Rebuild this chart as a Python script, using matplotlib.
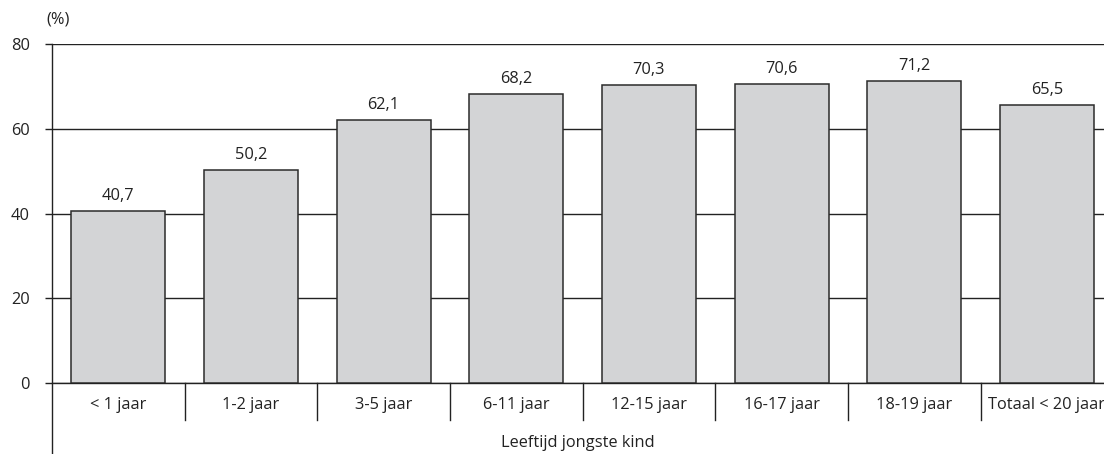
import numpy as np
import matplotlib.pyplot as plt
import matplotlib.transforms as mtransforms

plt.rcParams['font.family'] = ['Open Sans', 'DejaVu Sans']

categories = ['< 1 jaar', '1-2 jaar', '3-5 jaar', '6-11 jaar', '12-15 jaar',
              '16-17 jaar', '18-19 jaar', 'Totaal < 20 jaar']
values = [40.7, 50.2, 62.1, 68.2, 70.3, 70.6, 71.2, 65.5]
labels = ['40,7', '50,2', '62,1', '68,2', '70,3', '70,6', '71,2', '65,5']
yticks = [0, 20, 40, 60, 80]

fs = 11.8
fig = plt.figure(figsize=(11.04, 4.54), dpi=100)
ax = fig.add_axes([52 / 1104, 71 / 454, 1 - 52 / 1104, 339 / 454])

x = np.arange(len(categories))
bars = ax.bar(x, values, width=0.71, color='#d3d4d6', edgecolor='#2b2b2b',
              linewidth=1.1, zorder=3)
for b, lab in zip(bars, labels):
    ax.annotate(lab, (b.get_x() + b.get_width() / 2, b.get_height()),
                xytext=(0, 5), textcoords='offset points',
                ha='center', va='bottom', fontsize=fs, color='#222222')

ax.set_ylim(0, 80)
ax.set_xlim(-0.5, 7.43)
ax.set_yticks(yticks)
ax.yaxis.grid(True, color='#222222', linewidth=1.0, zorder=0)
ax.set_axisbelow(True)

for s in ['top', 'right']:
    ax.spines[s].set_visible(False)
ax.spines['left'].set_visible(False)
ax.spines['bottom'].set_color('#222222')
ax.spines['bottom'].set_linewidth(1.0)

trans = mtransforms.blended_transform_factory(ax.transData, ax.transAxes)

# left axis line running down past the category labels
ax.plot([-0.5, -0.5], [-0.22, 1], transform=trans,
        color='#222222', linewidth=1.0, clip_on=False, zorder=4)

# category separators below the axis
for xs in np.arange(0.5, len(categories) - 1, 1.0):
    ax.plot([xs, xs], [0, -0.11], transform=trans, color='#222222',
            linewidth=1.0, clip_on=False)

ax.set_xticks(x)
ax.set_xticklabels(categories)
ax.tick_params(axis='x', length=0, pad=10, labelsize=fs, colors='#222222')
ax.tick_params(axis='y', length=5, width=1.0, pad=11, labelsize=fs,
               colors='#222222')
ax.set_xlabel('Leeftijd jongste kind', fontsize=fs, color='#222222', labelpad=16)

fig.text(58 / 1104, 1 - 19 / 454, '(%)', ha='center', va='center',
         fontsize=fs, color='#222222')

fig.savefig('out.png', dpi=100)
